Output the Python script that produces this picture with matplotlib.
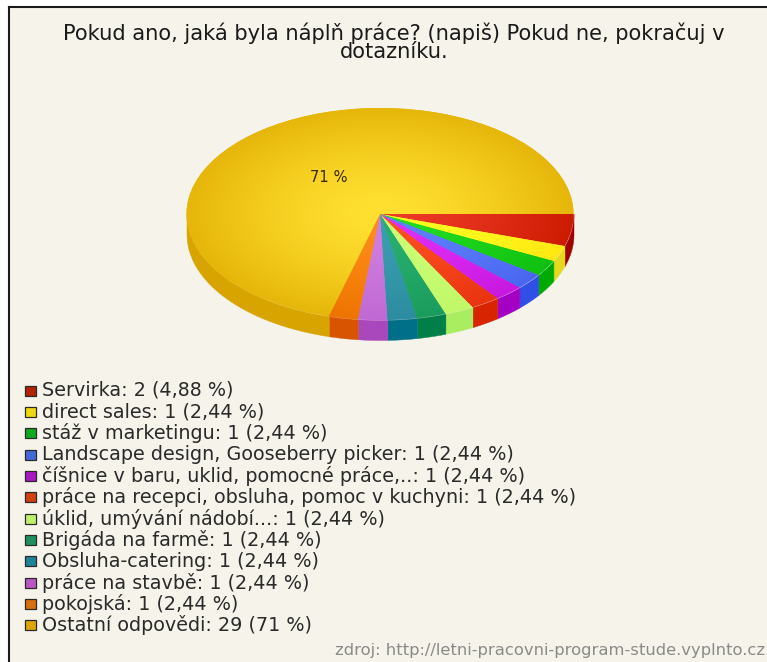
import numpy as np
import matplotlib
matplotlib.use('Agg')
import matplotlib.pyplot as plt
from matplotlib.colors import to_rgb
from matplotlib.patches import Rectangle

W, H = 767, 662

title_lines = ['Pokud ano, jaká byla náplň práce? (napiš) Pokud ne, pokračuj v',
               'dotazníku.']
source = 'zdroj: http://letni-pracovni-program-stude.vyplnto.cz'

categories = ['Servirka', 'direct sales', 'stáž v marketingu',
              'Landscape design, Gooseberry picker',
              'číšnice v baru, uklid, pomocné práce,..',
              'práce na recepci, obsluha, pomoc v kuchyni',
              'úklid, umývání nádobí...', 'Brigáda na farmě',
              'Obsluha-catering', 'práce na stavbě', 'pokojská',
              'Ostatní odpovědi']
counts = [2, 1, 1, 1, 1, 1, 1, 1, 1, 1, 1, 29]
percents = ['4,88', '2,44', '2,44', '2,44', '2,44', '2,44',
            '2,44', '2,44', '2,44', '2,44', '2,44', '71']

# slice colours: near the centre, at the rim, on the side wall, legend box
inner = ['#ee3a28', '#ffff22', '#22dd22', '#5f82ff', '#e030f8', '#ff5020',
         '#ccff77', '#28b070', '#3a9fb0', '#d080e0', '#ff8c18', '#ffe030']
outer = ['#cc1c00', '#ffe812', '#10c010', '#4a66f0', '#c818e0', '#e83410',
         '#c0f868', '#1a9c5c', '#2c8ca0', '#c068d4', '#ee7400', '#e6b60a']
wall = ['#a00000', '#e6d81c', '#00ab00', '#2f4fe6', '#a400c4', '#d82400',
        '#a8ee60', '#008048', '#007088', '#a848bc', '#d85400', '#d8a400']
boxes = ['#b02400', '#f0d810', '#10a820', '#4468d8', '#a818c0', '#d04010',
         '#c0f070', '#209060', '#208498', '#b858c0', '#d87010', '#dca808']

plt.rcParams['font.family'] = ['DejaVu Sans']


def fx(x):
    return x / W


def fy(y):
    return 1 - y / H


fig = plt.figure(figsize=(W / 100, H / 100), dpi=100, facecolor='white')

# panel with its dark frame on the top and left
fig.add_artist(Rectangle((fx(9), 0), 1 - fx(9), fy(7), transform=fig.transFigure,
                         facecolor='#f5f3ea', edgecolor='none', zorder=-2))
fig.add_artist(plt.Line2D([fx(9), fx(9)], [0, fy(7)], color='#1a1a1a', lw=1.5))
fig.add_artist(plt.Line2D([fx(9), 1], [fy(7), fy(7)], color='#1a1a1a', lw=1.5))

for line, y in zip(title_lines, [33, 52]):
    fig.text(fx(394), fy(y), line, ha='center', va='center', fontsize=15.15,
             color='#1a1a1a')

# pie axes: radius 1 is 193.5 px across and 106 px down
cx, cy, rx, ry = 380, 214, 193.5, 106
depth = 20 / ry
xlim = (-1.03, 1.03)
ylim = (-1.03 - depth, 1.03)
ax = fig.add_axes([fx(cx + xlim[0] * rx), fy(cy - ylim[0] * ry),
                   (xlim[1] - xlim[0]) * rx / W, (ylim[1] - ylim[0]) * ry / H])

wedges, _ = ax.pie(counts, colors=outer, startangle=0, counterclock=False,
                   radius=1, wedgeprops={'linewidth': 0, 'zorder': 3})

# side wall for the part of each slice that faces the viewer
for wedge, col in zip(wedges, wall):
    a0, a1 = max(wedge.theta1, -180), min(wedge.theta2, 0)
    if a1 <= a0:
        continue
    t = np.radians(np.linspace(a0, a1, 60))
    ax.fill_between(np.cos(t), np.sin(t) - depth, np.sin(t), color=col,
                    linewidth=0.3, zorder=2)

# radial shading on the top face, clipped to each slice
gx, gy = np.meshgrid(np.linspace(-1.02, 1.02, 500), np.linspace(-1.02, 1.02, 300))
r = np.clip(np.hypot(gx, gy), 0, 1)[..., None] ** 1.5
for wedge, c_in, c_out in zip(wedges, inner, outer):
    shade = (1 - r) * np.array(to_rgb(c_in)) + r * np.array(to_rgb(c_out))
    im = ax.imshow(shade, extent=(-1.02, 1.02, -1.02, 1.02), origin='lower',
                   interpolation='bilinear', zorder=4)
    im.set_clip_path(wedge)

ax.set_aspect('auto')
ax.set_xlim(*xlim)
ax.set_ylim(*ylim)
ax.axis('off')

fig.text(fx(329), fy(178), f'{percents[-1]} %', ha='center', va='center',
         fontsize=10.6, color='#3a2a00')

# legend rows
row_y = 390.5
row_step = 21.35
for i, (name, n, pct) in enumerate(zip(categories, counts, percents)):
    y = row_y + i * row_step
    fig.add_artist(Rectangle((fx(24.5), fy(y + 5)), 11 / W, 10 / H,
                             transform=fig.transFigure, facecolor=boxes[i],
                             edgecolor='#2a2a2a', linewidth=0.9))
    fig.text(fx(42), fy(y), f'{name}: {n} ({pct} %)', ha='left', va='center',
             fontsize=13.8, color='#2a2a2a')

fig.text(fx(765), fy(651), source, ha='right', va='center', fontsize=11.8,
         color='#8a8a88')

fig.savefig('out.png', dpi=100, facecolor='white')
